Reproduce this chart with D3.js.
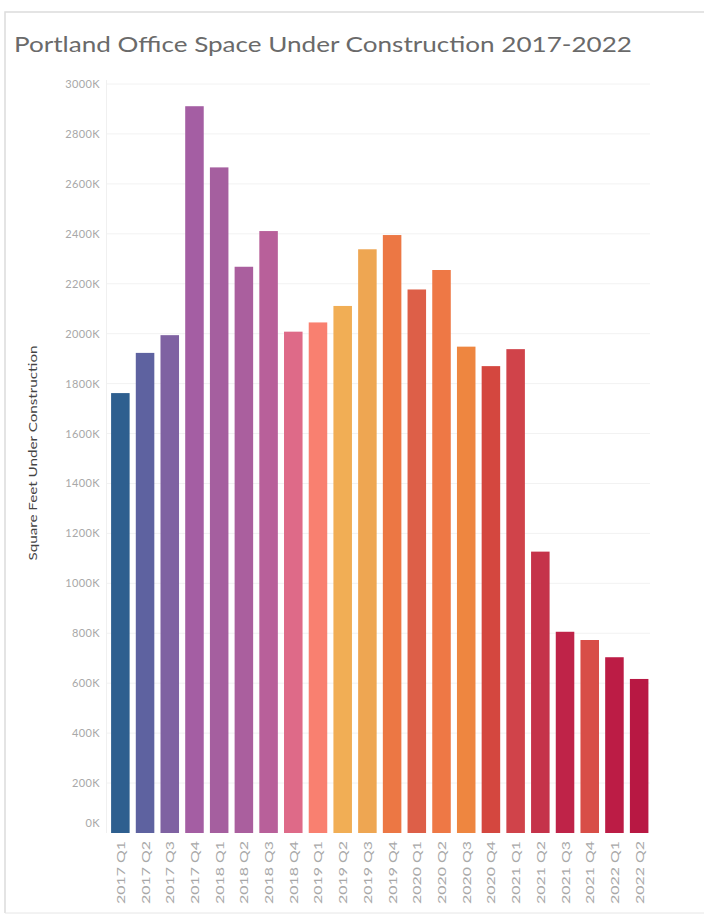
<!DOCTYPE html>
<html>
<head>
<meta charset="utf-8">
<script src="https://cdn.jsdelivr.net/npm/d3@7"></script>
<style>
  html, body { margin: 0; padding: 0; background: #fff; }
  svg { display: block; }
</style>
</head>
<body>
<svg id="chart" width="704" height="915"></svg>
<script>
// Quarterly office space under construction in Portland (thousands of sq ft)
const quarters = [
  "2017 Q1","2017 Q2","2017 Q3","2017 Q4",
  "2018 Q1","2018 Q2","2018 Q3","2018 Q4",
  "2019 Q1","2019 Q2","2019 Q3","2019 Q4",
  "2020 Q1","2020 Q2","2020 Q3","2020 Q4",
  "2021 Q1","2021 Q2","2021 Q3","2021 Q4",
  "2022 Q1","2022 Q2"
];
const sqftK = [
  1762, 1923, 1994, 2911,
  2666, 2268, 2411, 2008,
  2045, 2111, 2338, 2395,
  2177, 2255, 1948, 1870,
  1938, 1127, 806, 773,
  704, 617
];
const barColors = [
  "#2e5f8f","#5e62a0","#7f62a2","#a45ea3",
  "#a55f9f","#aa5f9e","#b8609a","#de6a88",
  "#f98070","#f1ae55","#eea652","#ec7744",
  "#dd5f48","#ee7845","#ee8640","#d4473f",
  "#d0434a","#c5334a","#bf2348","#d84e47",
  "#bc1c45","#b81843"
];
const yTicks = [0,200,400,600,800,1000,1200,1400,1600,1800,2000,2200,2400,2600,2800,3000];

const svg = d3.select("#chart");

// outer frame
svg.append("path")
  .attr("d", "M5,913 V12 H704")
  .attr("fill", "none")
  .attr("stroke", "#dcdcdc")
  .attr("stroke-width", 1.5);
svg.append("line")
  .attr("x1", 5).attr("x2", 704).attr("y1", 913).attr("y2", 913)
  .attr("stroke", "#e6e6e6").attr("stroke-width", 1);

// title
svg.append("text")
  .attr("x", 14).attr("y", 52)
  .attr("font-family", "Lato, 'Open Sans', sans-serif")
  .attr("font-size", 21.5)
  .attr("fill", "#6a6a6a")
  .attr("textLength", 618)
  .attr("lengthAdjust", "spacingAndGlyphs")
  .text("Portland Office Space Under Construction 2017-2022");

const x = d3.scaleBand()
  .domain(quarters)
  .range([108, 651.5])
  .paddingInner(0.25)
  .paddingOuter(0.125);

const y = d3.scaleLinear()
  .domain([0, 3000])
  .range([833, 84]);

// horizontal gridlines
svg.append("g")
  .selectAll("line")
  .data(yTicks.filter(d => d > 0))
  .join("line")
  .attr("x1", 106).attr("x2", 650)
  .attr("y1", d => y(d)).attr("y2", d => y(d))
  .attr("stroke", "#f2f2f2")
  .attr("stroke-width", 1);

// faint axis line
svg.append("line")
  .attr("x1", 106.5).attr("x2", 106.5)
  .attr("y1", 80).attr("y2", 833)
  .attr("stroke", "#f0f0f0");

// bars
svg.append("g")
  .selectAll("rect")
  .data(quarters)
  .join("rect")
  .attr("x", d => x(d))
  .attr("width", x.bandwidth())
  .attr("y", (d, i) => y(sqftK[i]))
  .attr("height", (d, i) => y(0) - y(sqftK[i]))
  .attr("fill", (d, i) => barColors[i]);

// y axis
const yAxis = d3.axisLeft(y)
  .tickValues(yTicks)
  .tickSize(0)
  .tickPadding(0)
  .tickFormat(d => d + "K");
const gy = svg.append("g")
  .attr("transform", "translate(100,0)")
  .call(yAxis);
gy.select(".domain").remove();
gy.selectAll("text")
  .attr("font-family", "Lato, 'Open Sans', sans-serif")
  .attr("font-size", 11)
  .attr("letter-spacing", 0.4)
  .attr("fill", "#a8a8a8");
gy.selectAll(".tick").filter(d => d === 0)
  .select("text").attr("dy", "-0.6em");

// x axis
const xAxis = d3.axisBottom(x).tickSize(0).tickPadding(0);
const gx = svg.append("g")
  .attr("transform", "translate(0,841)")
  .call(xAxis);
gx.select(".domain").remove();
gx.selectAll("text")
  .attr("font-family", "Lato, 'Open Sans', sans-serif")
  .attr("font-size", 11.5)
  .attr("fill", "#a8a8a8")
  .attr("text-anchor", "end")
  .attr("dominant-baseline", "central")
  .attr("textLength", 63)
  .attr("lengthAdjust", "spacingAndGlyphs")
  .attr("transform", "rotate(-90)")
  .attr("x", 0)
  .attr("y", 0)
  .attr("dy", null);

// y axis title
svg.append("text")
  .attr("transform", "translate(37,453) rotate(-90)")
  .attr("text-anchor", "middle")
  .attr("font-family", "Lato, 'Open Sans', sans-serif")
  .attr("font-size", 11.5)
  .attr("fill", "#444")
  .attr("textLength", 215)
  .attr("lengthAdjust", "spacingAndGlyphs")
  .text("Square Feet Under Construction");
</script>
</body>
</html>
